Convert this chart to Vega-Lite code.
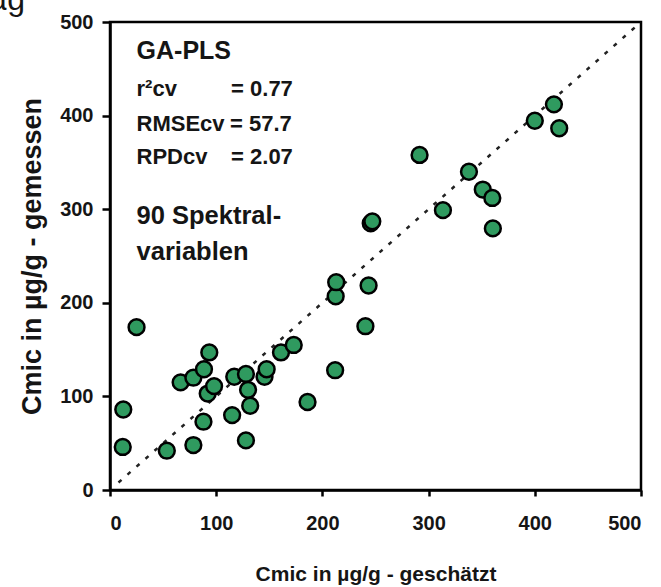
{
  "$schema": "https://vega.github.io/schema/vega-lite/v6.json",
  "width": 531,
  "height": 468,
  "autosize": {"type": "none"},
  "padding": {"left": 110, "top": 22, "right": 20, "bottom": 97},
  "background": "white",
  "config": {
    "font": "Liberation Sans",
    "view": {"stroke": "black", "strokeWidth": 2.5},
    "axis": {
      "grid": false,
      "domainColor": "black",
      "domainWidth": 2.5,
      "tickColor": "black",
      "tickWidth": 2.5,
      "labelFont": "Liberation Sans",
      "labelFontSize": 20,
      "labelFontWeight": "bold",
      "labelColor": "#151515",
      "titleFont": "Liberation Sans",
      "titleFontSize": 21,
      "titleFontWeight": "bold",
      "titleColor": "#151515"
    }
  },
  "datasets": {
    "points": [
      {"est": 12.5, "meas": 86},
      {"est": 12, "meas": 46},
      {"est": 25, "meas": 174},
      {"est": 53.5, "meas": 42},
      {"est": 66.5, "meas": 115},
      {"est": 78.5, "meas": 120},
      {"est": 78.5, "meas": 48},
      {"est": 88.5, "meas": 129},
      {"est": 93.5, "meas": 147},
      {"est": 92, "meas": 103},
      {"est": 98, "meas": 111},
      {"est": 88, "meas": 73},
      {"est": 115, "meas": 80},
      {"est": 117, "meas": 121},
      {"est": 128, "meas": 124},
      {"est": 130, "meas": 107},
      {"est": 132, "meas": 90},
      {"est": 128, "meas": 53},
      {"est": 145.5, "meas": 121},
      {"est": 147.5, "meas": 129},
      {"est": 161, "meas": 147},
      {"est": 173, "meas": 155},
      {"est": 186, "meas": 94},
      {"est": 212, "meas": 128},
      {"est": 212.5, "meas": 207},
      {"est": 213, "meas": 222},
      {"est": 240.5, "meas": 175},
      {"est": 243.5, "meas": 218.5},
      {"est": 245.5, "meas": 285},
      {"est": 247, "meas": 287},
      {"est": 291.5, "meas": 358},
      {"est": 313.5, "meas": 299},
      {"est": 338, "meas": 340},
      {"est": 351, "meas": 321},
      {"est": 360, "meas": 312},
      {"est": 360.5, "meas": 279.5},
      {"est": 400, "meas": 394.5},
      {"est": 418, "meas": 412},
      {"est": 423, "meas": 386.5}
    ],
    "diag": [
      {"est": 8, "meas": 8},
      {"est": 500, "meas": 500}
    ],
    "labels": [
      {"est": 25, "meas": 469, "txt": "GA-PLS", "fs": 25},
      {"est": 25, "meas": 428, "txt": "r²cv", "fs": 22},
      {"est": 114, "meas": 428, "txt": "= 0.77", "fs": 22},
      {"est": 25, "meas": 391, "txt": "RMSEcv", "fs": 22},
      {"est": 113, "meas": 391, "txt": "= 57.7", "fs": 22},
      {"est": 25, "meas": 356, "txt": "RPDcv", "fs": 22},
      {"est": 114, "meas": 356, "txt": "= 2.07", "fs": 22},
      {"est": 25, "meas": 293, "txt": "90 Spektral-", "fs": 25.5},
      {"est": 25, "meas": 254, "txt": "variablen", "fs": 25.5}
    ],
    "corner": [
      {"est": -80, "meas": 512.8, "txt": "µg"}
    ]
  },
  "layer": [
    {
      "data": {"name": "diag"},
      "mark": {"type": "line", "color": "#222", "strokeWidth": 2.5, "strokeDash": [4, 8], "clip": true},
      "encoding": {
        "x": {"field": "est", "type": "quantitative"},
        "y": {"field": "meas", "type": "quantitative"}
      }
    },
    {
      "data": {"name": "points"},
      "mark": {"type": "circle", "size": 250, "fill": "#2f9a5f", "stroke": "black", "strokeWidth": 2.5, "opacity": 1, "fillOpacity": 1},
      "encoding": {
        "x": {
          "field": "est", "type": "quantitative",
          "scale": {"domain": [0, 500], "nice": false, "zero": false},
          "axis": {"values": [0, 100, 200, 300, 400, 500], "tickSize": 6, "labelPadding": 17, "title": "Cmic in µg/g - geschätzt", "titlePadding": 30}
        },
        "y": {
          "field": "meas", "type": "quantitative",
          "scale": {"domain": [0, 500], "nice": false, "zero": false},
          "axis": {"values": [0, 100, 200, 300, 400, 500], "tickSize": 8, "labelPadding": 9, "title": "Cmic in µg/g - gemessen", "titleFontSize": 27, "titlePadding": 13}
        }
      }
    },
    {
      "data": {"name": "labels"},
      "mark": {"type": "text", "align": "left", "baseline": "middle", "color": "#151515", "font": "Liberation Sans", "fontWeight": "bold"},
      "encoding": {
        "x": {"field": "est", "type": "quantitative"},
        "y": {"field": "meas", "type": "quantitative"},
        "text": {"field": "txt"},
        "size": {"field": "fs", "type": "quantitative", "scale": null, "legend": null}
      }
    },
    {
      "data": {"name": "corner"},
      "mark": {"type": "text", "align": "right", "baseline": "alphabetic", "fontSize": 32, "color": "#151515", "clip": false, "font": "Liberation Sans"},
      "encoding": {
        "x": {"field": "est", "type": "quantitative"},
        "y": {"field": "meas", "type": "quantitative"},
        "text": {"field": "txt"}
      }
    }
  ]
}
